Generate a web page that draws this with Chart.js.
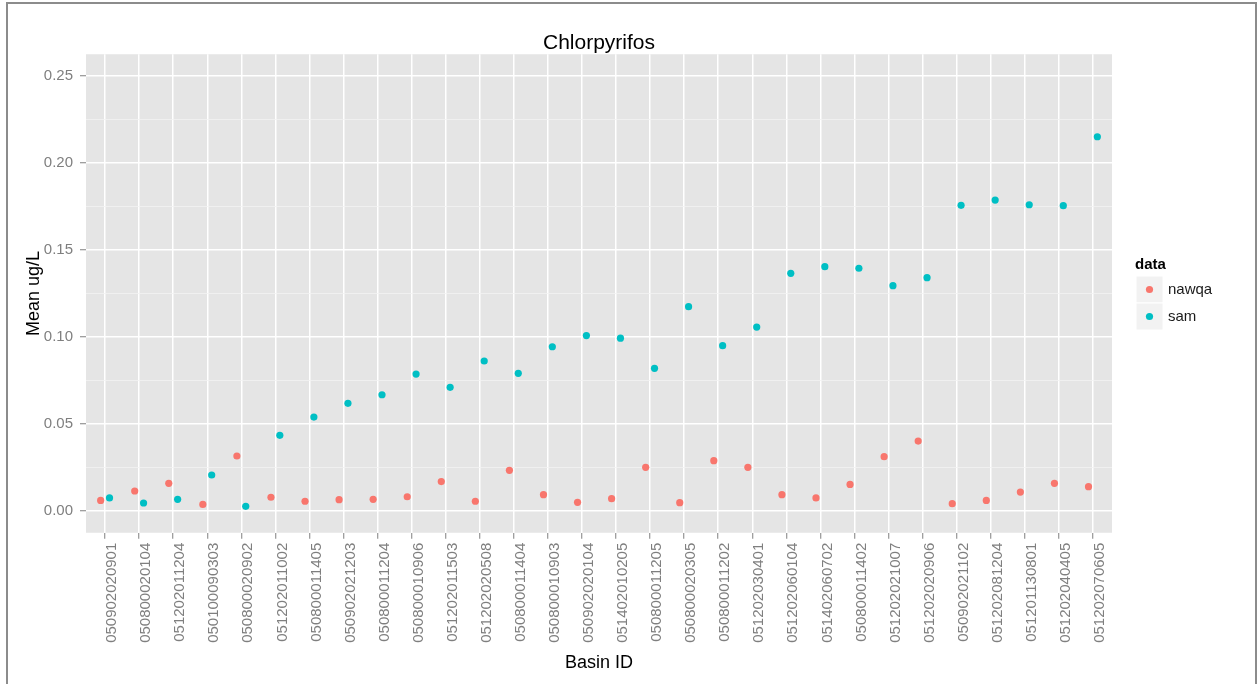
<!DOCTYPE html>
<html>
<head>
<meta charset="utf-8">
<title>Chlorpyrifos</title>
<script src="https://cdn.jsdelivr.net/npm/chart.js@4.4.1/dist/chart.umd.min.js"></script>
<style>
    html, body { margin: 0; padding: 0; background: #fff; }
    canvas { display: block; }
</style>
</head>
<body>
<canvas id="chlorpyrifosChart" width="1257" height="684"></canvas>
<script>
const basinIds = [
    '050902020901', '050800020104', '051202011204', '050100090303', '050800020902',
    '051202011002', '050800011405', '050902021203', '050800011204', '050800010906',
    '051202011503', '051202020508', '050800011404', '050800010903', '050902020104',
    '051402010205', '050800011205', '050800020305', '050800011202', '051202030401',
    '051202060104', '051402060702', '050800011402', '051202021007', '051202020906',
    '050902021102', '051202081204', '051201130801', '051202040405', '051202070605'
];

const nawqaMeans = [
    0.0061, 0.0115, 0.0159, 0.0038, 0.0316, 0.0079, 0.0056, 0.0065, 0.0067, 0.0082,
    0.0169, 0.0056, 0.0234, 0.0094, 0.0050, 0.0071, 0.0251, 0.0048, 0.0289, 0.0251,
    0.0094, 0.0075, 0.0153, 0.0312, 0.0402, 0.0042, 0.0061, 0.0109, 0.0159, 0.0140
];

const samMeans = [
    0.0075, 0.0046, 0.0067, 0.0207, 0.0027, 0.0435, 0.0540, 0.0619, 0.0668, 0.0787,
    0.0711, 0.0862, 0.0791, 0.0944, 0.1008, 0.0993, 0.0820, 0.1174, 0.0950, 0.1057,
    0.1366, 0.1404, 0.1395, 0.1295, 0.1341, 0.1757, 0.1787, 0.1760, 0.1755, 0.2151
];

const yMajorTicks = [0, 0.05, 0.10, 0.15, 0.20, 0.25];
const yTickLabels = ['0.00', '0.05', '0.10', '0.15', '0.20', '0.25'];
const yMinorTicks = [0.025, 0.075, 0.125, 0.175, 0.225];

const chartTitle = 'Chlorpyrifos';

const COLORS = {
    nawqa: '#F8766D',
    sam: '#00BFC4',
    panel: '#E5E5E5',
    minorGrid: '#F2F2F2',
    tickText: '#7F7F7F',
    legendKey: '#F2F2F2',
    frame: '#8C8C8C'
};
const FONT = '"Liberation Sans", Arial, Helvetica, sans-serif';
const DODGE = 0.13;

function toPoints(values, shift) {
    return values.map((v, i) => ({ x: i + shift, y: v }));
}

function isMajor(ctx) {
    return !!ctx.tick && yMajorTicks.includes(ctx.tick.value);
}

// grey panel behind the grid, the title over the panel, and the outer frame
const panelBackground = {
    id: 'panelBackground',
    beforeDraw(chart) {
        const { ctx, chartArea: a } = chart;
        ctx.save();
        ctx.fillStyle = '#fff';
        ctx.fillRect(0, 0, chart.width, chart.height);
        ctx.fillStyle = COLORS.panel;
        ctx.fillRect(a.left, a.top, a.right - a.left, a.bottom - a.top);
        ctx.restore();
    },
    afterDraw(chart) {
        const { ctx, chartArea: a } = chart;
        ctx.save();
        // title is centred on the panel, not on the canvas (ggplot style)
        ctx.fillStyle = '#000';
        ctx.font = `21px ${FONT}`;
        ctx.textAlign = 'center';
        ctx.textBaseline = 'middle';
        ctx.fillText(chartTitle, (a.left + a.right) / 2, a.top - 11);

        ctx.strokeStyle = COLORS.frame;
        ctx.lineWidth = 2;
        ctx.strokeRect(7, 3, chart.width - 8, chart.height + 20);
        ctx.restore();
    }
};

// ggplot-like legend on the right side
const sideLegend = {
    id: 'sideLegend',
    afterDraw(chart) {
        const { ctx, chartArea: a } = chart;
        const x = a.right + 23;
        const key = 27;
        const top = (a.top + a.bottom) / 2 - 37;

        ctx.save();
        ctx.textBaseline = 'middle';
        ctx.textAlign = 'left';
        ctx.fillStyle = '#000';
        ctx.font = `bold 15px ${FONT}`;
        ctx.fillText('data', x, top + 8.5);

        ctx.font = `15px ${FONT}`;
        chart.data.datasets.forEach((ds, i) => {
            const ky = top + 19.5 + i * key;
            ctx.fillStyle = COLORS.legendKey;
            ctx.fillRect(x + 1, ky, key, key);
            ctx.strokeStyle = '#fff';
            ctx.lineWidth = 1;
            ctx.strokeRect(x + 1, ky, key, key);

            ctx.beginPath();
            ctx.fillStyle = ds.backgroundColor;
            ctx.arc(x + 1 + key / 2, ky + key / 2, 3.6, 0, Math.PI * 2);
            ctx.fill();

            ctx.fillStyle = '#1a1a1a';
            ctx.fillText(ds.label, x + key + 6, ky + key / 2);
        });
        ctx.restore();
    }
};

const ctx = document.getElementById('chlorpyrifosChart').getContext('2d');

new Chart(ctx, {
    type: 'scatter',
    data: {
        datasets: [
            {
                label: 'nawqa',
                data: toPoints(nawqaMeans, -DODGE),
                backgroundColor: COLORS.nawqa,
                borderWidth: 0,
                pointRadius: 3.6
            },
            {
                label: 'sam',
                data: toPoints(samMeans, DODGE),
                backgroundColor: COLORS.sam,
                borderWidth: 0,
                pointRadius: 3.6
            }
        ]
    },
    options: {
        responsive: false,
        animation: false,
        devicePixelRatio: 1,
        layout: { padding: { left: 0, right: 145, top: 54.25, bottom: 0 } },
        plugins: {
            legend: { display: false },
            tooltip: { enabled: false },
            title: { display: false }
        },
        scales: {
            x: {
                type: 'linear',
                min: -0.56,
                max: 29.56,
                afterBuildTicks: scale => {
                    scale.ticks = basinIds.map((_, i) => ({ value: i }));
                },
                afterFit: scale => { scale.height = 151.25; },
                ticks: {
                    callback: v => basinIds[v],
                    autoSkip: false,
                    minRotation: 90,
                    maxRotation: 90,
                    padding: 4,
                    labelOffset: 7,
                    color: COLORS.tickText,
                    font: { family: FONT, size: 15 }
                },
                grid: {
                    color: '#fff',
                    lineWidth: 1.5,
                    tickColor: COLORS.tickText,
                    tickLength: 6,
                    tickWidth: 1
                },
                border: { display: false },
                title: {
                    display: true,
                    text: 'Basin ID',
                    color: '#000',
                    font: { family: FONT, size: 18 },
                    padding: { top: 0, bottom: 10 }
                }
            },
            y: {
                min: -0.0125,
                max: 0.2625,
                afterBuildTicks: scale => {
                    scale.ticks = [...yMajorTicks, ...yMinorTicks]
                        .sort((a, b) => a - b)
                        .map(v => ({ value: v }));
                },
                afterFit: scale => { scale.width = 86; },
                ticks: {
                    callback: v => {
                        const k = yMajorTicks.indexOf(v);
                        return k < 0 ? '' : yTickLabels[k];
                    },
                    padding: 7,
                    color: COLORS.tickText,
                    font: { family: FONT, size: 15 }
                },
                grid: {
                    color: c => isMajor(c) ? '#fff' : COLORS.minorGrid,
                    lineWidth: c => isMajor(c) ? 1.5 : 0.8,
                    tickColor: c => isMajor(c) ? COLORS.tickText : 'rgba(0,0,0,0)',
                    tickLength: 6,
                    tickWidth: 1
                },
                border: { display: false },
                title: {
                    display: true,
                    text: 'Mean ug/L',
                    color: '#000',
                    font: { family: FONT, size: 18 },
                    padding: { top: 23, bottom: 0 }
                }
            }
        }
    },
    plugins: [panelBackground, sideLegend]
});
</script>
</body>
</html>
